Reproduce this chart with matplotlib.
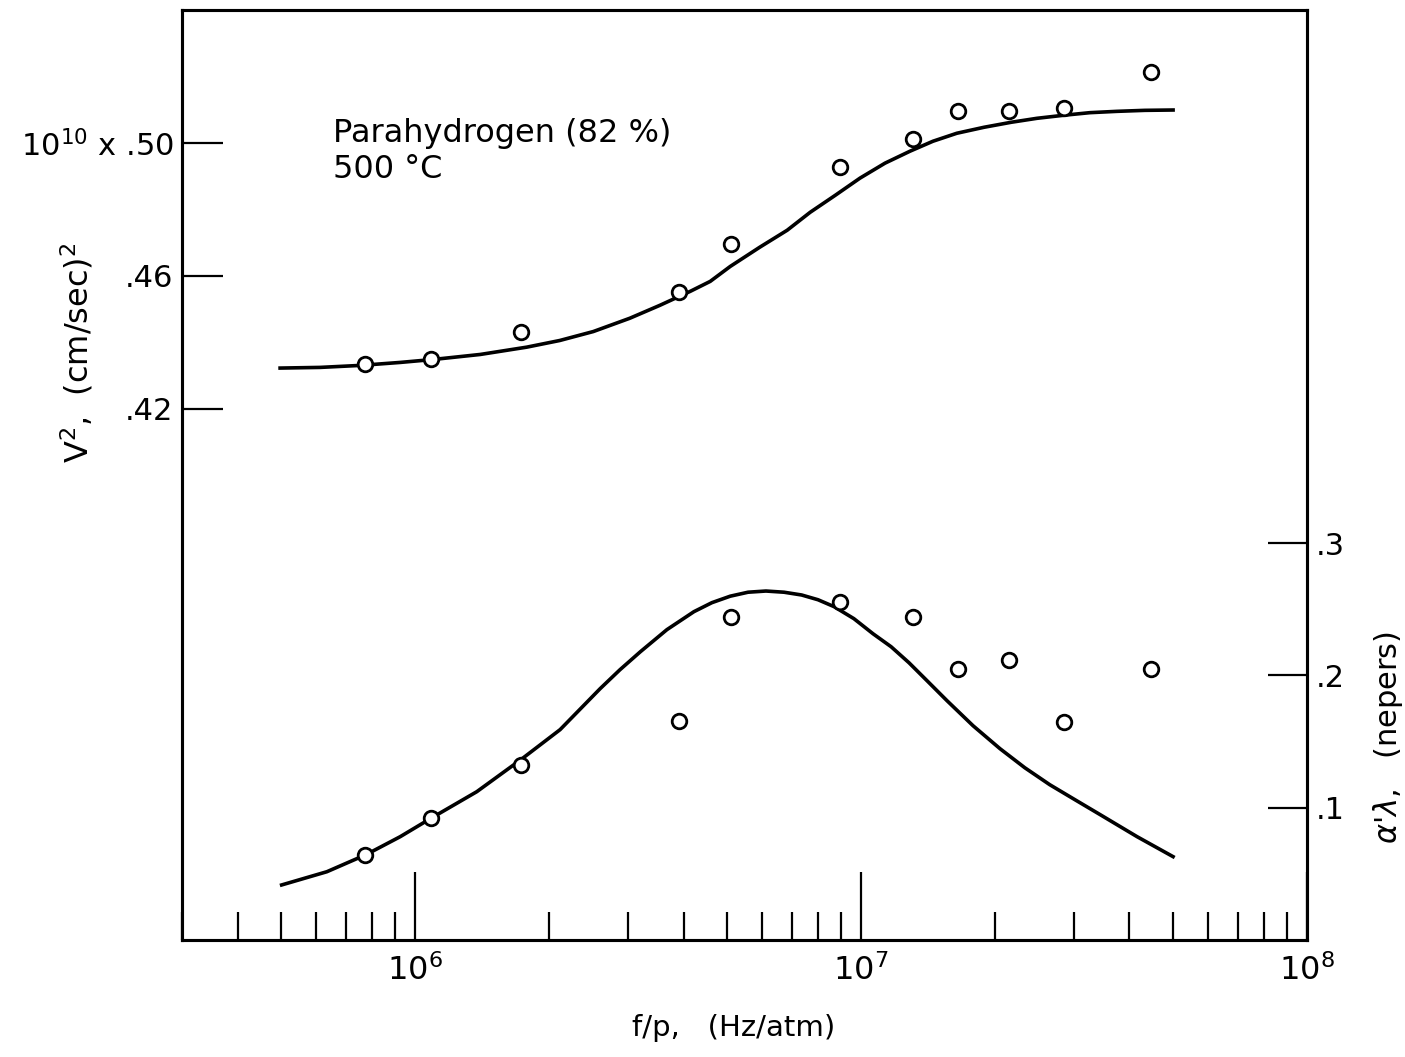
import matplotlib
matplotlib.use("Agg")
import matplotlib.pyplot as plt
from matplotlib.ticker import LogLocator, NullFormatter, FixedLocator

# measured points (f/p in Hz/atm)
freq = [7.73e5, 1.083e6, 1.726e6, 3.91e6, 5.11e6, 8.97e6,
        1.308e7, 1.646e7, 2.147e7, 2.853e7, 4.47e7]
v2 = [0.4333, 0.4349, 0.4432, 0.4550, 0.4695, 0.4928,
      0.5011, 0.5096, 0.5096, 0.5105, 0.5213]
alpha = [0.0642, 0.0919, 0.1323, 0.1658, 0.2445, 0.2558,
         0.2445, 0.2049, 0.2117, 0.1651, 0.2049]

# theory curves
v2_curve_f = [4.98e5, 6.12e5, 7.53e5, 9.26e5, 1.10e6, 1.40e6, 1.78e6, 2.11e6,
              2.51e6, 3.03e6, 3.54e6, 4.14e6, 4.59e6, 5.09e6, 5.93e6, 6.83e6,
              7.69e6, 8.75e6, 9.95e6, 1.132e7, 1.288e7, 1.45e7, 1.64e7,
              1.887e7, 2.17e7, 2.48e7, 2.84e7, 3.26e7, 3.75e7, 4.33e7, 5.01e7]
v2_curve = [0.4322, 0.4324, 0.4330, 0.4339, 0.4348, 0.4363, 0.4385, 0.4405,
            0.4432, 0.4472, 0.4511, 0.4553, 0.4583, 0.4628, 0.4686, 0.4737,
            0.4791, 0.4842, 0.4894, 0.4939, 0.4975, 0.5005, 0.5029,
            0.5047, 0.5062, 0.5074, 0.5083, 0.5091, 0.5095, 0.5098, 0.5099]

alpha_curve_f = [5.02e5, 6.34e5, 7.76e5, 9.26e5, 1.084e6, 1.375e6, 1.726e6,
                 2.114e6, 2.60e6, 2.88e6, 3.20e6, 3.67e6, 4.22e6, 4.63e6,
                 5.09e6, 5.58e6, 6.12e6, 6.72e6, 7.36e6, 8.01e6, 8.70e6,
                 9.64e6, 1.064e7, 1.168e7, 1.281e7, 1.413e7, 1.559e7,
                 1.783e7, 2.05e7, 2.33e7, 2.65e7, 3.02e7, 3.44e7, 4.16e7, 5.01e7]
alpha_curve = [0.0416, 0.0516, 0.0645, 0.0781, 0.0919, 0.1121, 0.1363,
               0.1590, 0.1900, 0.2043, 0.2179, 0.2346, 0.2482, 0.2550,
               0.2599, 0.2629, 0.2638, 0.2629, 0.2608, 0.2572, 0.2520,
               0.2429, 0.2315, 0.2217, 0.2096, 0.1953, 0.1809,
               0.1620, 0.1446, 0.1302, 0.1174, 0.1060, 0.0947, 0.0781, 0.0630]

left_ticks = [0.42, 0.46, 0.50]
left_labels = [".42", ".46", r"$\mathregular{10^{10}}$ x .50"]
right_ticks = [0.1, 0.2, 0.3]
right_labels = [".1", ".2", ".3"]
x_ticks = [1e6, 1e7, 1e8]
x_labels = [r"$10^6$", r"$10^7$", r"$10^8$"]

plt.rcParams["font.family"] = "DejaVu Sans"
fig = plt.figure(figsize=(14.05, 10.57), dpi=100)
ax = fig.add_axes([0.1295, 0.1107, 0.8007, 0.8798])
ax2 = ax.twinx()

ax.set_xscale("log")
ax.set_xlim(3e5, 1e8)
ax.set_ylim(0.26, 0.54)
ax2.set_ylim(0.0, 0.703)

for a in (ax, ax2):
    for s in a.spines.values():
        s.set_linewidth(2.2)

ax.plot(v2_curve_f, v2_curve, color="black", lw=2.6, zorder=2)
ax.plot(freq, v2, "o", ms=10.5, mfc="white", mec="black", mew=2.0, zorder=3)
ax2.plot(alpha_curve_f, alpha_curve, color="black", lw=2.6, zorder=2)
ax2.plot(freq, alpha, "o", ms=10.5, mfc="white", mec="black", mew=2.0, zorder=3)

# x axis
ax.xaxis.set_major_locator(FixedLocator(x_ticks))
ax.set_xticklabels(x_labels)
ax.xaxis.set_minor_locator(LogLocator(base=10, subs=[2, 3, 4, 5, 6, 7, 8, 9]))
ax.xaxis.set_minor_formatter(NullFormatter())
ax.tick_params(axis="x", which="major", direction="in", length=49, width=1.6,
               labelsize=23, pad=10)
ax.tick_params(axis="x", which="minor", direction="in", length=20, width=1.6)

# left axis
ax.set_yticks(left_ticks)
ax.set_yticklabels(left_labels)
ax.tick_params(axis="y", direction="in", length=29.5, width=1.6, labelsize=22, pad=6)

# right axis
ax2.set_yticks(right_ticks)
ax2.set_yticklabels(right_labels)
ax2.tick_params(axis="y", direction="in", length=28, width=1.6, labelsize=22, pad=6)

ax.set_xlabel("f/p,   (Hz/atm)", fontsize=21)
ax.xaxis.set_label_coords(0.49, -0.08)
ax.set_ylabel(r"V$^2$,  (cm/sec)$^2$", fontsize=23)
ax.yaxis.set_label_coords(-0.077, 0.632)
ax2.set_ylabel(r"$\alpha$'$\lambda$,   (nepers)", fontsize=22)
ax2.yaxis.set_label_coords(1.057, 0.218)

ax.text(0.134, 0.884, "Parahydrogen (82 %)\n500 \u00b0C", transform=ax.transAxes,
        fontsize=23, va="top", ha="left", linespacing=1.2)

fig.savefig("out.png", dpi=100)
